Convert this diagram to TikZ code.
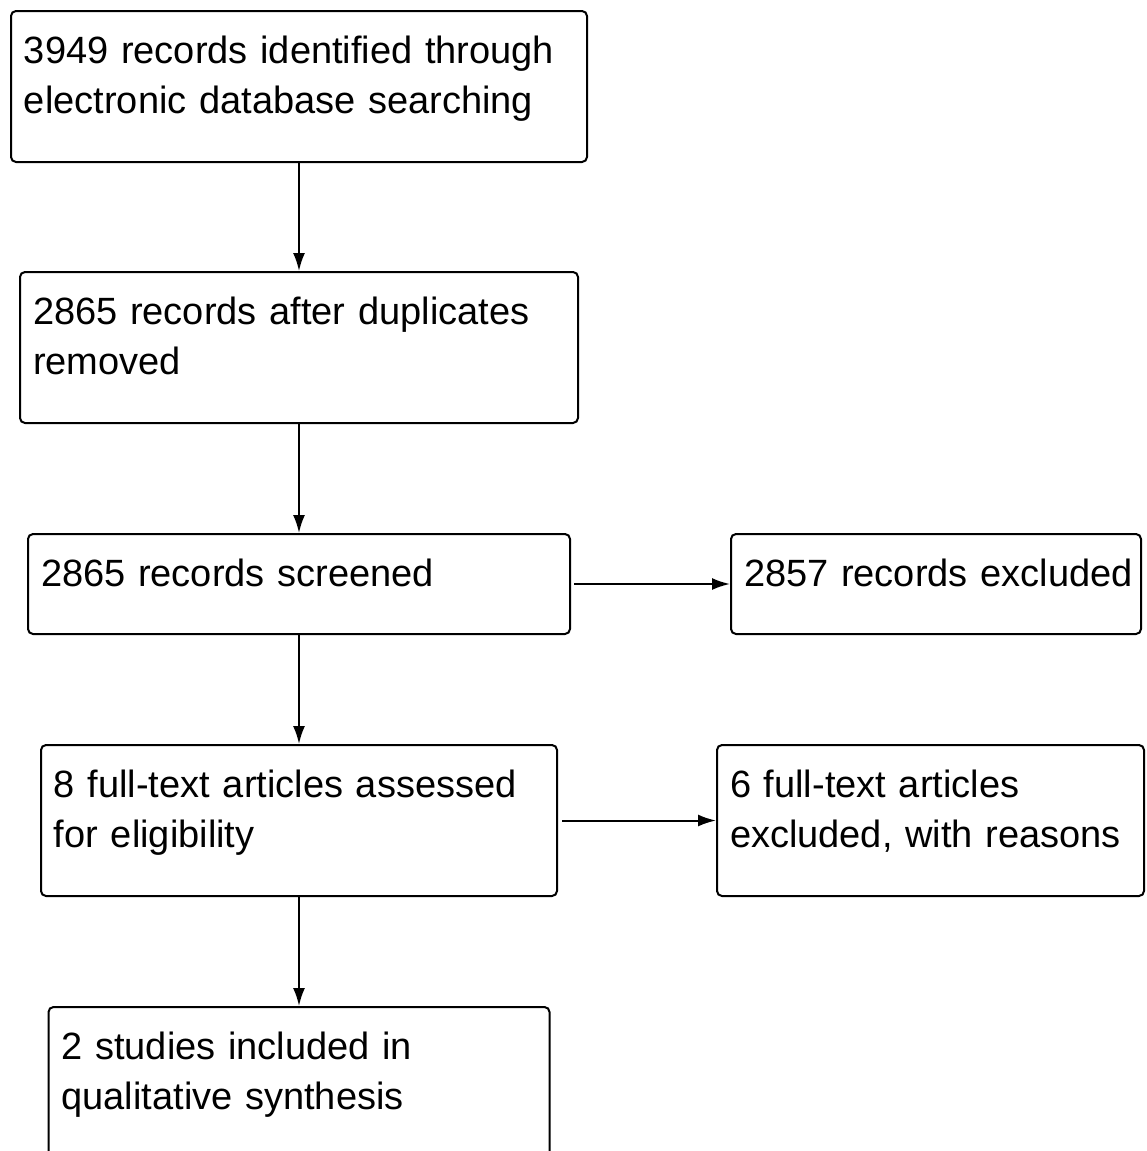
\documentclass[tikz,border=0pt]{standalone}
\usepackage{fontspec}
\setmainfont{Liberation Sans}
\usetikzlibrary{arrows.meta,positioning}

\tikzset{
  flowbox/.style={draw, line width=1pt, rounded corners=2.5pt, align=left,
    inner xsep=6.5pt, inner ysep=0pt, text height=26pt,
    font=\fontsize{19}{25}\selectfont},
  tallbox/.style={flowbox, text depth=49.5pt},
  shortbox/.style={flowbox, text depth=24pt},
  flowarrow/.style={line width=1pt, -{Latex[length=9pt,width=6pt]}}
}

\begin{document}
\begin{tikzpicture}
  \useasboundingbox (0,0) rectangle (573pt,-575.5pt);
  \clip (0,0) rectangle (573pt,-575.5pt);

  % main column
  \node[tallbox, text width=275pt, anchor=north west] (ident) at (5pt,-5pt)
    {3949 records identified through\\electronic database searching};
  \node[tallbox, text width=266pt, below=54pt of ident] (dupl)
    {2865 records after duplicates\\removed};
  \node[shortbox, text width=258pt, below=54.5pt of dupl] (screen)
    {\mbox{2865 records screened}};
  \node[tallbox, text width=245pt, below=54.5pt of screen] (full)
    {8 full-text articles assessed\\for eligibility};
  \node[tallbox, text width=237.5pt, below=54.5pt of full] (incl)
    {2 studies included in\\qualitative synthesis};

  % exclusions
  \node[shortbox, text width=192pt, right=79.5pt of screen] (recex)
    {\mbox{2857 records excluded}};
  \node[tallbox, text width=200.5pt, right=79pt of full] (fullex)
    {6 full-text articles\\excluded, with reasons};

  \draw[flowarrow] (ident) -- (dupl);
  \draw[flowarrow] (dupl) -- (screen);
  \draw[flowarrow] (screen) -- (full);
  \draw[flowarrow] (full) -- (incl);
  \draw[flowarrow, shorten <=1.5pt] (screen) -- (recex);
  \draw[flowarrow, shorten <=2pt] (full) -- (fullex);
\end{tikzpicture}
\end{document}
